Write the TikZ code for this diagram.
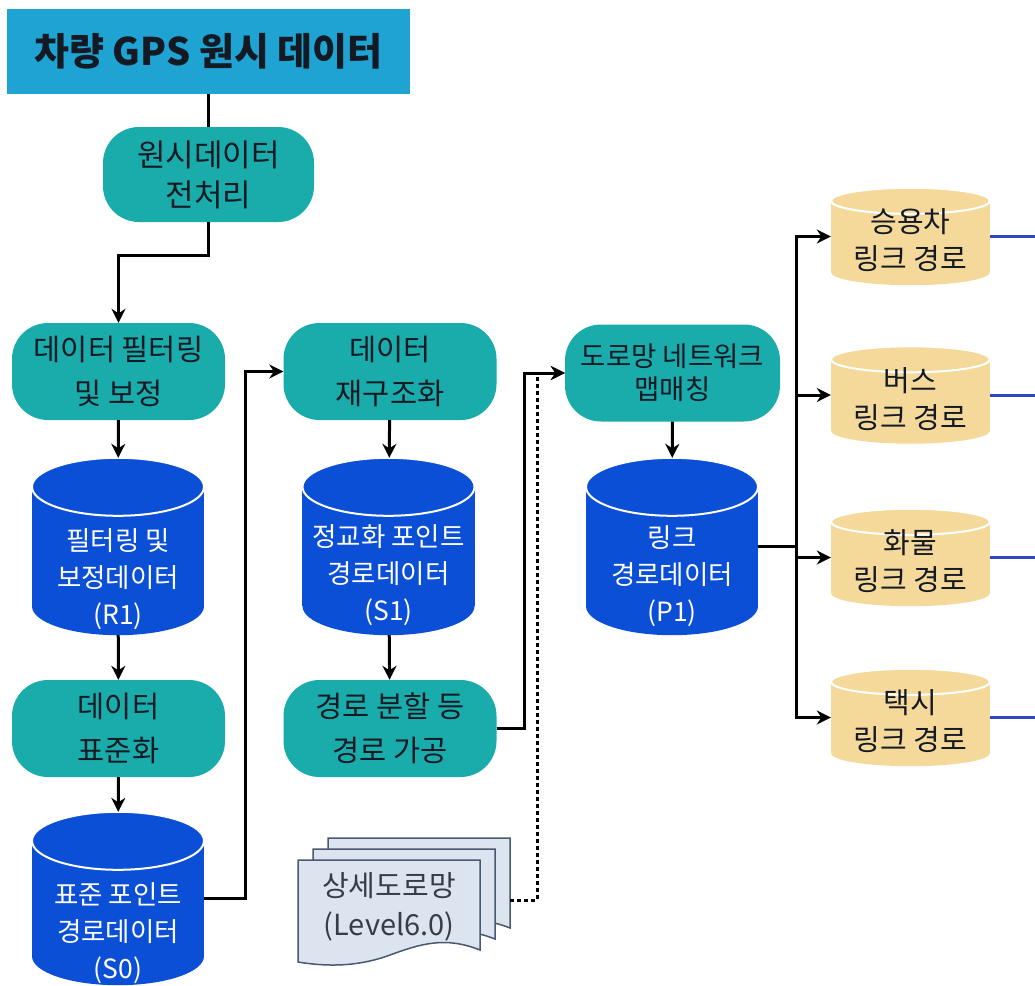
\documentclass[tikz,border=0pt]{standalone}
\usepackage{fontspec}
\setmainfont{Noto Sans CJK KR}
\usetikzlibrary{shapes.geometric, arrows.meta, positioning, calc}
\definecolor{GPS_Sky}{HTML}{1EA3D3}
\definecolor{GPS_Teal}{HTML}{1AABAB}
\definecolor{GPS_Blue}{HTML}{0B4FD6}
\definecolor{GPS_Sand}{HTML}{F5D99A}
\definecolor{GPS_Paper}{HTML}{DCE4F0}
\definecolor{GPS_Slate}{HTML}{4A5870}
\definecolor{GPS_Ink}{HTML}{141A24}
\definecolor{GPS_Line}{HTML}{2B47C4}
% drum body behind a named box: node, half width, cap radius, fill colour
\newcommand{\dbdrum}[4]{%
    \fill[#4] ($(#1.north west)+(0,#3)$) rectangle ($(#1.south east)-(0,#3)$);
    \fill[#4] ($(#1.south)-(0,#3)$) ellipse[x radius=#2pt, y radius=#3pt];
    \filldraw[fill=#4, draw=white, line width=2pt] ($(#1.north)+(0,#3)$) ellipse[x radius=#2pt, y radius=#3pt];
}

\begin{document}
\begin{tikzpicture}[x=1pt, y=-1pt,
    headbox/.style={fill=GPS_Sky, minimum width=403pt, minimum height=85pt, inner sep=0pt,
        font=\fontsize{38}{42}\selectfont\bfseries, text=GPS_Ink},
    proc/.style={fill=GPS_Teal, rounded corners=36pt, minimum width=213pt, minimum height=97pt,
        inner sep=0pt, align=center, font=\fontsize{29.5}{44}\selectfont, text=GPS_Ink},
    storebox/.style={minimum width=172pt, minimum height=177pt, inner sep=0pt},
    storetext/.style={text=white, align=center, inner sep=0pt, font=\fontsize{26.5}{37}\selectfont},
    linkbox/.style={minimum width=159pt, minimum height=97pt, inner sep=0pt},
    linktext/.style={align=center, inner sep=0pt, font=\fontsize{29}{37}\selectfont, text=GPS_Ink},
    sheet/.style={fill=GPS_Paper, draw=GPS_Slate, line width=1.5pt},
    joinline/.style={line width=3pt},
    flow/.style={line width=3pt, -{Stealth[length=14pt, width=14pt]}},
    feed/.style={line width=3pt, dash pattern=on 4pt off 3pt, -{Stealth[length=14pt, width=14pt]}},
    branchout/.style={line width=3pt, GPS_Line}]
    \useasboundingbox (0,0) rectangle (1035,985);

    % Source and preprocessing
    \node[headbox] (raw) at (208.5,51.5) {차량 GPS 원시 데이터};
    \node[proc, minimum width=211pt, minimum height=95pt, font=\fontsize{31}{40}\selectfont] (prep) at (208.5,174.5) {원시데이터\\전처리};

    % Left column
    \node[proc] (filter) at (118.5,371.5) {데이터 필터링\\및 보정};
    \node[storebox] (r1) at (118,546.5) {};
    \dbdrum{r1}{86}{29}{GPS_Blue}
    \node[storetext] (r1-text) at ([yshift=-33pt]r1.center) {필터링 및\\보정데이터\\(R1)};
    \node[proc] (std) at (118.5,728.5) {데이터\\표준화};
    \node[storebox, minimum height=173pt] (s0) at (118,898.5) {};
    \dbdrum{s0}{86}{29}{GPS_Blue}
    \node[storetext] (s0-text) at ([yshift=-35pt]s0.center) {표준 포인트\\경로데이터\\(S0)};

    % Middle column
    \node[proc] (restruct) at (390,371.5) {데이터\\재구조화};
    \node[storebox] (s1) at (388.5,546.5) {};
    \dbdrum{s1}{86}{29}{GPS_Blue}
    \node[storetext] (s1-text) at ([yshift=-29pt]s1.center) {정교화 포인트\\경로데이터\\(S1)};
    \node[proc] (split) at (390,728.5) {경로 분할 등\\경로 가공};

    % Road network document stack
    \foreach \dx/\dy in {30/-22, 15/-11, 0/0} {
        \draw[sheet, shift={(\dx,\dy)}] (298,860) -- (480,860) -- (480,950)
            .. controls (445,936) and (420,944) .. (390,955)
            .. controls (355,968) and (322,966) .. (298,962) -- cycle;
    }
    \node[linktext, text=GPS_Ink!85, font=\fontsize{29}{39}\selectfont] (roadmap) at (389,907) {상세도로망\\(Level6.0)};
    \coordinate (roadmap-e) at (510,900);

    % Map matching
    \node[proc, minimum width=215pt, font=\fontsize{27.5}{33}\selectfont] (mapm) at (672.5,373) {도로망 네트워크\\맵매칭};
    \node[storebox] (p1) at (672,546.5) {};
    \dbdrum{p1}{86}{29}{GPS_Blue}
    \node[storetext] (p1-text) at ([yshift=-30pt]p1.center) {링크\\경로데이터\\(P1)};

    % Vehicle link paths
    \foreach \v/\y/\kind in {car/236.5/승용차, bus/395/버스, truck/557.5/화물, taxi/717.5/택시} {
        \node[linkbox] (\v) at (910.5,\y) {};
        \dbdrum{\v}{79.5}{13}{GPS_Sand}
        \node[linktext] (\v-text) at ([yshift=-4pt]\v.center) {\kind\\링크 경로};
    }

    % Connectors
    \draw[joinline] (raw) -- (prep);
    \draw[flow] (prep.south) -- ++(0,33) -| (filter.north);
    \draw[flow] (filter) -- (r1);
    \draw[flow] (r1) -- (std);
    \draw[flow] (std) -- (s0);
    \draw[flow] (s0.east) -- ++(41,0) |- (restruct.west);
    \draw[flow] (restruct) -- (s1);
    \draw[flow] (s1) -- (split);
    \draw[flow] (split.east) -- ++(28,0) |- (mapm.west);
    \draw[feed] (roadmap-e) -- ++(27,0) |- (mapm.west);
    \draw[flow] (mapm) -- (p1);
    \draw[joinline] (p1.east) -- ++(38,0) coordinate (fork);
    \foreach \v in {car, bus, truck, taxi} {
        \draw[flow] (fork) |- (\v.west);
        \draw[branchout] (\v.east) -- ++(46,0);
    }
\end{tikzpicture}
\end{document}
